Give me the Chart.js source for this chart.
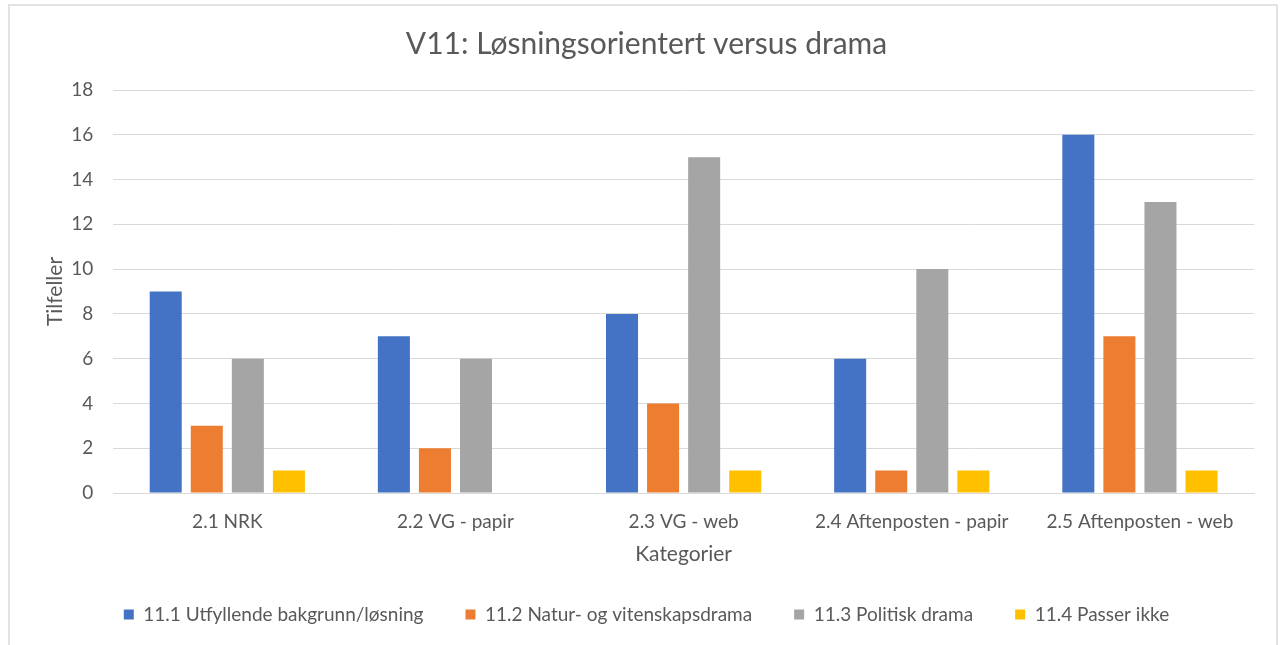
<!DOCTYPE html>
<html>
<head>
<meta charset="utf-8">
<script src="https://cdn.jsdelivr.net/npm/chart.js@4"></script>
<style>
    body { margin: 0; background: #fff; }
    #frame {
        position: absolute; left: 8px; top: 4px; width: 1270px; height: 660px;
        border: 2px solid #e3e3e3; border-bottom: none; box-sizing: border-box;
    }
    #wrap { position: absolute; left: 0; top: 0; width: 1266px; height: 641px; }
</style>
</head>
<body>
<div id="frame"><div id="wrap"><canvas id="bar-chart"></canvas></div></div>
<script>
// Chart data
var categories = ["2.1 NRK", "2.2 VG - papir", "2.3 VG - web", "2.4 Aftenposten - papir", "2.5 Aftenposten - web"];
var seriesNames = ["11.1 Utfyllende bakgrunn/løsning", "11.2 Natur- og vitenskapsdrama", "11.3 Politisk drama", "11.4 Passer ikke"];
var bakgrunn = [9, 7, 8, 6, 16];
var naturdrama = [3, 2, 4, 1, 7];
var politisk = [6, 6, 15, 10, 13];
var passerIkke = [1, 0, 1, 1, 1];
var yTicks = [0, 2, 4, 6, 8, 10, 12, 14, 16, 18];

var colors = ["#4472C4", "#ED7D31", "#A5A5A5", "#FFC000"];
var values = [bakgrunn, naturdrama, politisk, passerIkke];
var font = "Lato, 'Liberation Sans', sans-serif";
var grey = "#595959";

new Chart(document.getElementById("bar-chart"), {
    type: 'bar',
    data: {
        labels: categories,
        datasets: seriesNames.map(function (name, i) {
            return {
                label: name,
                backgroundColor: colors[i],
                data: values[i],
                categoryPercentage: 0.72,
                barPercentage: 0.78
            };
        })
    },
    options: {
        responsive: true,
        maintainAspectRatio: false,
        animation: false,
        layout: { padding: { left: 29, right: 22, top: 6, bottom: 13 } },
        plugins: {
            tooltip: { enabled: false },
            title: {
                display: true,
                text: 'V11: Løsningsorientert versus drama',
                color: grey,
                font: { family: font, size: 30, weight: 'normal' },
                padding: { top: 14, bottom: 28 }
            },
            legend: {
                position: 'bottom',
                labels: {
                    color: grey,
                    font: { family: font, size: 19 },
                    boxWidth: 10,
                    boxHeight: 10,
                    padding: 42
                }
            }
        },
        scales: {
            x: {
                grid: { display: false, drawTicks: false },
                border: { color: "#d9d9d9", width: 1 },
                ticks: { color: grey, font: { family: font, size: 19 }, padding: 17 },
                title: { display: true, text: 'Kategorier', color: grey, font: { family: font, size: 21 }, padding: { top: -8, bottom: -4 } }
            },
            y: {
                min: 0,
                max: 18,
                afterBuildTicks: function (axis) {
                    axis.ticks = yTicks.map(function (v) { return { value: v }; });
                },
                grid: { color: "#d9d9d9", drawTicks: false },
                border: { display: false },
                ticks: { color: grey, font: { family: font, size: 19 }, padding: 20 },
                title: { display: true, text: 'Tilfeller', color: grey, font: { family: font, size: 21 }, padding: { bottom: -17 } }
            }
        }
    }
});
</script>
</body>
</html>
